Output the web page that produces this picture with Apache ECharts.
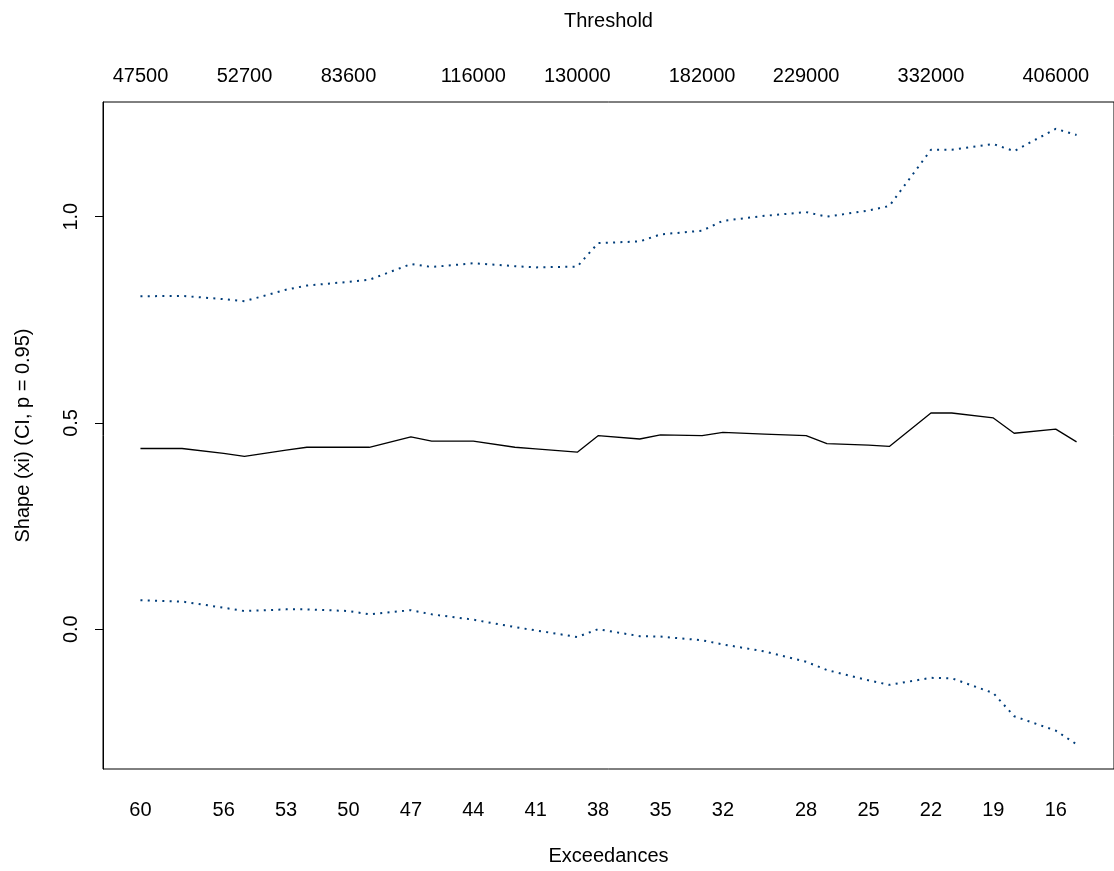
<!DOCTYPE html>
<html>
<head>
<meta charset="utf-8">
<script src="https://cdn.jsdelivr.net/npm/echarts@6/dist/echarts.min.js"></script>
<style>
html, body { margin: 0; padding: 0; background: #fff; }
#chart { width: 1114px; height: 871px; }
</style>
</head>
<body>
<div id="chart"></div>
<script>
"use strict";

// one model per number of exceedances
var exceedances = [60, 58, 56, 55, 53, 52, 50, 49, 47, 46, 44, 42, 41, 39, 38, 36, 35, 33, 32, 30, 28, 27, 25, 24, 22, 21, 19, 18, 16, 15];
var shapeValues = [0.438, 0.438, 0.426, 0.419, 0.434, 0.441, 0.441, 0.441, 0.466, 0.456, 0.456, 0.441, 0.437, 0.429, 0.469, 0.461, 0.471, 0.469, 0.477, 0.473, 0.469, 0.450, 0.446, 0.443, 0.524, 0.524, 0.512, 0.475, 0.485, 0.454];
var upperValues = [0.807, 0.808, 0.800, 0.795, 0.823, 0.833, 0.842, 0.847, 0.885, 0.878, 0.887, 0.880, 0.877, 0.879, 0.936, 0.940, 0.957, 0.966, 0.990, 1.002, 1.011, 1.000, 1.015, 1.026, 1.162, 1.162, 1.176, 1.159, 1.213, 1.198];
var lowerValues = [0.070, 0.067, 0.052, 0.044, 0.048, 0.048, 0.044, 0.036, 0.046, 0.036, 0.023, 0.005, -0.003, -0.019, 0.000, -0.017, -0.018, -0.027, -0.037, -0.054, -0.079, -0.099, -0.124, -0.135, -0.118, -0.119, -0.155, -0.211, -0.246, -0.279];

// tick labels
var bottomLabelAt = [60, 56, 53, 50, 47, 44, 41, 38, 35, 32, 28, 25, 22, 19, 16];
var topLabelAt = [60, 55, 50, 44, 39, 33, 28, 22, 16];
var thresholdLabels = ['47500', '52700', '83600', '116000', '130000', '182000', '229000', '332000', '406000'];
var yTicks = [0, 0.5, 1.0];

var FONT = 'Liberation Sans, Arial, sans-serif';
var FONT_SIZE = 20;
var CI_COLOR = '#003d7a';

function toPoints(values) {
	var result = [];
	for (var i = 0; i < exceedances.length; i++) {
		result.push([-exceedances[i], values[i]]);
	}
	return result;
}

function negate(list) {
	return list.map(function(v) { return -v; });
}

function thresholdFor(v) {
	var idx = topLabelAt.indexOf(Math.round(-v));
	return idx >= 0 ? thresholdLabels[idx] : '';
}

var chart = echarts.init(document.getElementById('chart'));

var textStyle = { color: '#000', fontSize: FONT_SIZE, fontFamily: FONT };

chart.setOption({
	animation: false,
	backgroundColor: '#fff',
	grid: {
		left: 103,
		top: 102,
		width: 1015,
		height: 668,
		show: true,
		borderColor: '#000',
		borderWidth: 1,
		backgroundColor: 'transparent'
	},
	xAxis: [{
		type: 'value',
		position: 'bottom',
		min: -61.8,
		max: -13.2,
		axisLine: { show: false },
		axisTick: { show: false },
		splitLine: { show: false },
		axisLabel: {
			customValues: negate(bottomLabelAt),
			formatter: function(v) { return String(-v); },
			margin: 31,
			color: '#000',
			fontSize: FONT_SIZE,
			fontFamily: FONT
		},
		name: 'Exceedances',
		nameLocation: 'middle',
		nameGap: 77,
		nameTextStyle: textStyle
	}, {
		type: 'value',
		position: 'top',
		min: -61.8,
		max: -13.2,
		axisLine: { show: false },
		axisTick: { show: false },
		splitLine: { show: false },
		axisLabel: {
			customValues: negate(topLabelAt),
			formatter: thresholdFor,
			margin: 16,
			color: '#000',
			fontSize: FONT_SIZE,
			fontFamily: FONT
		},
		name: 'Threshold',
		nameLocation: 'middle',
		nameGap: 71,
		nameTextStyle: textStyle
	}],
	yAxis: {
		type: 'value',
		min: -0.339,
		max: 1.278,
		axisLine: { show: true, lineStyle: { color: '#000', width: 1 } },
		axisTick: { show: true, customValues: yTicks, length: 8, lineStyle: { color: '#000' } },
		splitLine: { show: false },
		axisLabel: {
			customValues: yTicks,
			rotate: 90,
			formatter: function(v) { return v.toFixed(1); },
			margin: 22,
			color: '#000',
			fontSize: FONT_SIZE,
			fontFamily: FONT
		},
		name: 'Shape (xi) (CI, p = 0.95)',
		nameLocation: 'middle',
		nameRotate: 90,
		nameGap: 70,
		nameTextStyle: textStyle
	},
	series: [{
		name: 'shape',
		type: 'line',
		xAxisIndex: 0,
		data: toPoints(shapeValues),
		showSymbol: false,
		silent: true,
		lineStyle: { color: '#000', width: 1.3 }
	}, {
		name: 'upper',
		type: 'line',
		xAxisIndex: 0,
		data: toPoints(upperValues),
		showSymbol: false,
		silent: true,
		lineStyle: { color: CI_COLOR, width: 2, type: [2, 5.3] }
	}, {
		name: 'lower',
		type: 'line',
		xAxisIndex: 0,
		data: toPoints(lowerValues),
		showSymbol: false,
		silent: true,
		lineStyle: { color: CI_COLOR, width: 2, type: [2, 5.3] }
	}]
});
</script>
</body>
</html>
